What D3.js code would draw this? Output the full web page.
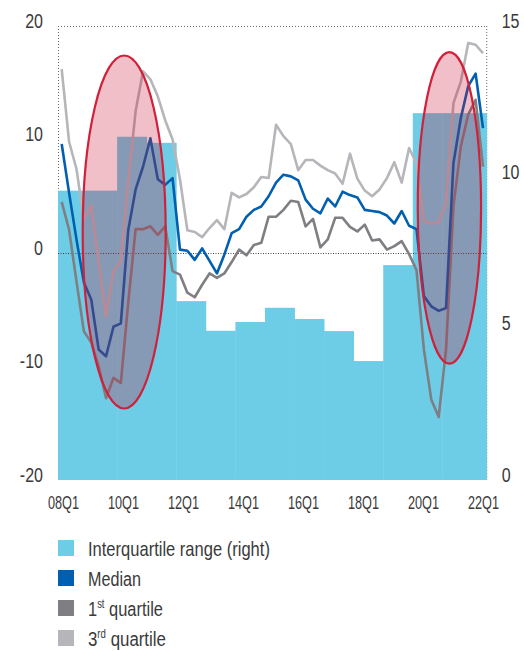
<!DOCTYPE html>
<html><head><meta charset="utf-8">
<script src="https://cdn.jsdelivr.net/npm/d3@7"></script>
<style>
html,body{margin:0;padding:0;background:#fff;}
svg{display:block;}
text{font-family:"Liberation Sans","Arial",sans-serif;fill:#3a3a3a;}
</style></head><body>
<svg id="c" width="524" height="651"></svg>
<script>
const quarters = ["08Q1","08Q2","08Q3","08Q4","09Q1","09Q2","09Q3","09Q4","10Q1","10Q2","10Q3","10Q4",
"11Q1","11Q2","11Q3","11Q4","12Q1","12Q2","12Q3","12Q4","13Q1","13Q2","13Q3","13Q4",
"14Q1","14Q2","14Q3","14Q4","15Q1","15Q2","15Q3","15Q4","16Q1","16Q2","16Q3","16Q4",
"17Q1","17Q2","17Q3","17Q4","18Q1","18Q2","18Q3","18Q4","19Q1","19Q2","19Q3","19Q4",
"20Q1","20Q2","20Q3","20Q4","21Q1","21Q2","21Q3","21Q4","22Q1","22Q2"];

const median = [9.6,5.3,1.2,-2.6,-4.1,-8.5,-9.1,-6.5,-6.2,2.0,5.6,7.6,
10.1,6.5,6.0,6.6,0.3,0.2,-0.6,0.4,-0.7,-1.8,-0.15,1.75,
2.1,3.2,3.8,4.1,5.0,6.2,6.9,6.75,6.4,4.7,3.9,3.5,
4.8,4.1,5.4,5.1,4.9,3.8,3.7,3.6,3.3,2.6,3.7,2.4,
2.1,-3.8,-4.7,-5.1,-4.85,7.9,11.9,14.7,15.8,11.0];

const firstQuartile = [4.5,2.05,-2.5,-6.9,-7.9,-10.0,-12.8,-11.0,-11.45,-4.4,2.1,2.1,
2.35,1.6,2.35,-1.6,-1.9,-3.5,-3.9,-2.8,-1.8,-2.2,-1.8,-0.8,
0.3,-0.2,0.7,0.9,3.2,3.2,3.8,4.6,4.5,2.35,3.0,0.5,
1.2,3.1,3.1,2.3,1.9,2.5,1.1,1.2,0.3,0.6,1.05,-0.1,
-1.5,-8.5,-12.9,-14.45,-8.5,4.1,9.4,12.2,13.5,7.6];

const thirdQuartile = [16.2,9.8,7.4,3.0,4.2,-0.8,-5.6,-1.6,-0.7,6.2,12.5,16.0,
15.3,13.8,11.7,10.0,6.5,2.0,1.85,1.4,2.2,2.9,2.1,5.3,
4.9,5.2,5.8,6.7,6.6,11.3,10.3,9.6,7.3,8.2,8.2,7.7,
7.3,7.0,6.1,8.75,6.55,5.5,5.0,5.6,6.6,8.0,6.2,9.25,
7.9,2.8,2.6,2.7,4.4,13.2,15.1,18.5,18.35,17.6];

const iqrYears = ["08","09","10","11","12","13","14","15","16","17","18","19","20","21","22"];
const iqrValues = [9.56,9.56,11.34,11.14,5.91,4.93,5.22,5.69,5.32,4.92,3.93,7.10,12.12,12.12,12.12];

const xTickLabels = ["08Q1","10Q1","12Q1","14Q1","16Q1","18Q1","20Q1","22Q1"];
const leftTicks = [-20,-10,0,10,20];
const rightTicks = [0,5,10,15];

// highlight ellipses: quarter-index extent and left-axis value extent
const highlightIdx = [[3.34,14.57],[48.67,57.24]];
const highlightVal = [[-13.7,17.4],[-9.75,17.7]];

const legendLabels = ["Interquartile range (right)","Median","1|st| quartile","3|rd| quartile"];

const colors = {iqr:"#6ecde6", median:"#005fb0", q1:"#7e7e83", q3:"#b6b6ba"};

const svg = d3.select("#c");
const L = 58, R = 486.7, T = 26, B = 480;

const x = d3.scaleBand().domain(quarters).range([L,R]).padding(0);
const xc = q => x(q) + x.bandwidth()/2;
const xi = d3.scaleLinear().domain([0, quarters.length]).range([L,R]);
const yL = d3.scaleLinear().domain([-20,20]).range([B,T]);
const yR = d3.scaleLinear().domain([0,15]).range([B,T]);
const xLab = d3.scalePoint().domain(xTickLabels).range([63,483]);

function condense(sel, s) {
  sel.each(function() {
    const t = d3.select(this);
    const ax = +t.attr("x") || 0, ay = +t.attr("y") || 0;
    t.attr("transform", `translate(${ax},${ay}) scale(${s},1) translate(${-ax},${-ay})`);
  });
}

// frame
const frame = svg.append("g").attr("stroke","#666").attr("stroke-width",1).attr("stroke-dasharray","1,2").attr("fill","none");
frame.append("line").attr("x1",L).attr("x2",R).attr("y1",T+0.5).attr("y2",T+0.5);
frame.append("line").attr("x1",L+0.5).attr("x2",L+0.5).attr("y1",T).attr("y2",B);
frame.append("line").attr("x1",R).attr("x2",R).attr("y1",T).attr("y2",B);
frame.append("line").attr("x1",L).attr("x2",R).attr("y1",B-0.5).attr("y2",B-0.5);

// bars (IQR, right axis)
svg.append("g").selectAll("rect").data(iqrYears).join("rect")
  .attr("x", (yy) => x(yy+"Q1"))
  .attr("width", (yy) => {
     const qs = quarters.filter(q => q.startsWith(yy));
     return x(qs[qs.length-1]) + x.bandwidth() - x(yy+"Q1") + 0.4;
  })
  .attr("y", (yy,i) => yR(iqrValues[i]))
  .attr("height", (yy,i) => yR(0) - yR(iqrValues[i]))
  .attr("fill", colors.iqr);

// zero line
svg.append("line").attr("x1",L).attr("x2",R).attr("y1",Math.round(yL(0))+0.5).attr("y2",Math.round(yL(0))+0.5)
  .attr("stroke","#444").attr("stroke-width",1).attr("stroke-dasharray","1,1.5");

// lines
const line = d3.line().x((d,i) => xc(quarters[i])).y(d => yL(d));
[[thirdQuartile,colors.q3],[firstQuartile,colors.q1],[median,colors.median]].forEach(([data,c]) => {
  svg.append("path").datum(data).attr("d",line).attr("fill","none")
    .attr("stroke",c).attr("stroke-width",2.6).attr("stroke-linejoin","round");
});

// highlight ellipses
highlightIdx.forEach((ix,k) => {
  const vx = highlightVal[k];
  const cx = (xi(ix[0]) + xi(ix[1]))/2, rx = (xi(ix[1]) - xi(ix[0]))/2;
  const cy = (yL(vx[0]) + yL(vx[1]))/2, ry = (yL(vx[0]) - yL(vx[1]))/2;
  svg.append("ellipse").attr("cx",cx).attr("cy",cy).attr("rx",rx).attr("ry",ry)
    .attr("fill","rgba(200,20,50,0.27)").attr("stroke","#d0213b").attr("stroke-width",2.2);
});

// left axis
const ga = svg.append("g").attr("transform",`translate(${L},0)`)
  .call(d3.axisLeft(yL).tickValues(leftTicks).tickSize(0).tickPadding(15).tickFormat(d => d));
ga.select(".domain").remove();
ga.selectAll("text").attr("dy",null).attr("y",1).attr("dominant-baseline","alphabetic")
  .style("font-size","20px").style("fill","#3a3a3a").style("font-family",null)
  .call(condense, 0.8);

// right axis
const gr = svg.append("g").attr("transform",`translate(${R},0)`)
  .call(d3.axisRight(yR).tickValues(rightTicks).tickSize(0).tickPadding(15).tickFormat(d => d));
gr.select(".domain").remove();
gr.selectAll("text").attr("dy",null).attr("y",1).attr("dominant-baseline","alphabetic")
  .style("font-size","20px").style("fill","#3a3a3a").style("font-family",null)
  .call(condense, 0.8);

// bottom axis
const gb = svg.append("g").attr("transform",`translate(0,${B})`)
  .call(d3.axisBottom(xLab).tickSize(0).tickPadding(0));
gb.select(".domain").remove();
gb.selectAll("text").attr("dy",null).attr("y",29).attr("dominant-baseline","alphabetic")
  .style("font-size","19px").style("fill","#3a3a3a").style("font-family",null)
  .attr("textLength",31).attr("lengthAdjust","spacingAndGlyphs");

// legend
const legColors = [colors.iqr, colors.median, colors.q1, colors.q3];
const legWidths = [182, 53, 75, 78];
const lg = svg.append("g");
legendLabels.forEach((lab,i) => {
  const cy = 548 + i*30;
  lg.append("rect").attr("x",58).attr("y",cy-8).attr("width",16).attr("height",16).attr("fill",legColors[i]);
  const t = lg.append("text").attr("x",88).attr("y",cy+8).style("font-size","21px");
  const parts = lab.split("|");
  if (parts.length === 1) {
    t.text(lab);
  } else {
    t.append("tspan").text(parts[0]);
    t.append("tspan").text(parts[1]).style("font-size","12px").attr("dy",-8);
    t.append("tspan").text(parts[2]).attr("dy",8);
  }
  const w = t.node().getComputedTextLength();
  const s = legWidths[i] / w;
  t.attr("transform",`translate(88,0) scale(${s},1) translate(-88,0)`);
});
</script>
</body></html>
